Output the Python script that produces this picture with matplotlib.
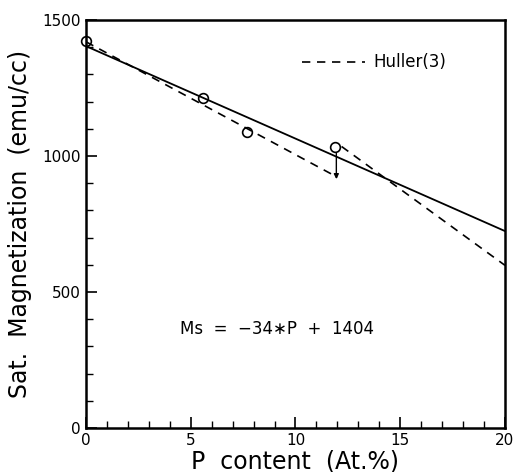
import numpy as np
import matplotlib.pyplot as plt
from matplotlib.ticker import MultipleLocator

# measured points
p_meas = [0, 5.6, 7.7, 11.9]
ms_meas = [1422, 1215, 1088, 1032]

# linear fit Ms = -34*P + 1404
fit_p = [0, 20]
fit_ms = [1404, 724]

# Huller(3) dashed curves
huller1_p = [0, 12]
huller1_ms = [1420, 922]
huller2_p = [12.2, 20]
huller2_ms = [1035, 598]

plt.rcParams['font.family'] = ['DejaVu Sans']

fig = plt.figure(figsize=(5.13, 4.72), dpi=100)
ax = fig.add_axes([0.1676, 0.0932, 0.8168, 0.8644])

ax.plot(fit_p, fit_ms, color='black', lw=1.3)
ax.plot(huller1_p, huller1_ms, color='black', lw=1.2, ls=(0, (5, 4)))
ax.plot(huller2_p, huller2_ms, color='black', lw=1.2, ls=(0, (5, 4)))
ax.plot(p_meas, ms_meas, 'o', mfc='none', mec='black', ms=7, mew=1.2, clip_on=False)

# arrow from measured point down to corrected value
ax.annotate('', xy=(11.95, 915), xytext=(11.95, 1010),
            arrowprops=dict(arrowstyle='-|>', color='black', lw=1.0,
                            mutation_scale=7, shrinkA=0, shrinkB=0))

# legend
ax.plot([10.3, 13.3], [1345, 1345], color='black', lw=1.2, ls=(0, (5, 4)))
ax.text(13.7, 1345, 'Huller(3)', fontsize=12, va='center', ha='left')

ax.text(4.5, 365, 'Ms  =  \u221234\u2217P  +  1404', fontsize=12, va='center', ha='left')

ax.set_xlim(0, 20)
ax.set_ylim(0, 1500)
ax.xaxis.set_major_locator(MultipleLocator(5))
ax.xaxis.set_minor_locator(MultipleLocator(1))
ax.yaxis.set_major_locator(MultipleLocator(500))
ax.yaxis.set_minor_locator(MultipleLocator(100))
ax.tick_params(which='both', direction='in', top=False, right=False, labelsize=11)
ax.tick_params(which='major', length=8, width=1.2)
ax.tick_params(which='minor', length=5, width=1.0)
for s in ax.spines.values():
    s.set_linewidth(1.8)

ax.set_xlabel('P  content  (At.%)', fontsize=17, labelpad=0)
ax.set_ylabel('Sat.  Magnetization  (emu/cc)', fontsize=17)
ax.yaxis.set_label_coords(-0.128, 0.5)
ax.xaxis.set_label_coords(0.5, -0.052)

fig.savefig('out.png', dpi=100)
